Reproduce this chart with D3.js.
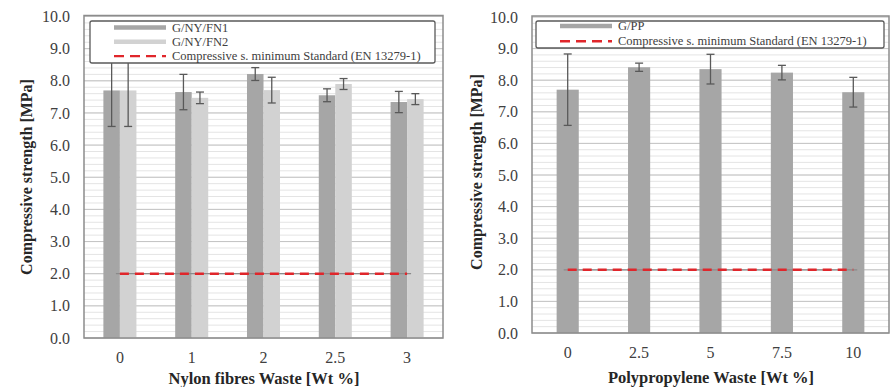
<!DOCTYPE html>
<html>
<head>
<meta charset="utf-8">
<script src="https://cdn.jsdelivr.net/npm/d3@7"></script>
<style>
  html, body { margin: 0; padding: 0; background: #fff; }
  svg { display: block; }
</style>
</head>
<body>
<svg id="chart" width="892" height="387"></svg>
<script>
// Compressive strength of gypsum composites with nylon fibre and polypropylene waste
const nylonCats = ["0", "1", "2", "2.5", "3"];
const fn1Values = [7.70, 7.65, 8.21, 7.55, 7.34];
const fn1Errors = [1.12, 0.55, 0.20, 0.20, 0.33];
const fn2Values = [7.70, 7.47, 7.71, 7.90, 7.43];
const fn2Errors = [1.12, 0.18, 0.40, 0.17, 0.17];

const ppCats = ["0", "2.5", "5", "7.5", "10"];
const ppValues = [7.70, 8.41, 8.35, 8.24, 7.62];
const ppErrors = [1.13, 0.13, 0.47, 0.23, 0.47];

const minStandard = 2.0;
const yTickValues = d3.range(0, 10.01, 1);
const yMinorValues = d3.range(0, 10.01, 0.2);

const standardLabel = "Compressive s. minimum Standard (EN 13279-1)";
const yTitle = "Compressive strength [MPa]";

const FONT = "'Liberation Serif', 'Times New Roman', serif";
const COL_DARK = "#a6a6a6";
const COL_LIGHT = "#d2d2d2";
const COL_RED = "#e0262b";
const COL_ERR = "#595959";

const svg = d3.select("#chart").style("font-family", FONT);

function drawPanel(cfg) {
  const g = svg.append("g");
  const x = d3.scaleBand().domain(cfg.cats)
    .range([cfg.left, cfg.right])
    .paddingInner(cfg.padInner).paddingOuter(cfg.padInner / 2);
  const y = d3.scaleLinear().domain([0, 10]).range([cfg.bottom, cfg.top]);
  const sub = d3.scaleBand().domain(cfg.series.map(s => s.name))
    .range([0, x.bandwidth()]);

  // minor and major horizontal grid
  g.append("g").selectAll("line").data(yMinorValues).join("line")
    .attr("x1", cfg.left).attr("x2", cfg.right)
    .attr("y1", d => y(d)).attr("y2", d => y(d))
    .attr("stroke", "#e4e4e4").attr("stroke-width", 1);
  g.append("g").selectAll("line").data(yTickValues).join("line")
    .attr("x1", cfg.left).attr("x2", cfg.right)
    .attr("y1", d => y(d)).attr("y2", d => y(d))
    .attr("stroke", "#c4c4c4").attr("stroke-width", 1);

  // bars
  cfg.series.forEach(s => {
    g.append("g").selectAll("rect").data(s.values).join("rect")
      .attr("x", (d, i) => x(cfg.cats[i]) + sub(s.name))
      .attr("y", d => y(d))
      .attr("width", sub.bandwidth())
      .attr("height", d => y(0) - y(d))
      .attr("fill", s.color);
  });

  // error bars
  cfg.series.forEach(s => {
    const eg = g.append("g").attr("stroke", COL_ERR).attr("stroke-width", 1.3);
    s.values.forEach((v, i) => {
      const cx = x(cfg.cats[i]) + sub(s.name) + sub.bandwidth() / 2;
      const hi = y(v + s.errors[i]), lo = y(v - s.errors[i]);
      eg.append("line").attr("x1", cx).attr("x2", cx).attr("y1", hi).attr("y2", lo);
      eg.append("line").attr("x1", cx - 4).attr("x2", cx + 4).attr("y1", hi).attr("y2", hi);
      eg.append("line").attr("x1", cx - 4).attr("x2", cx + 4).attr("y1", lo).attr("y2", lo);
    });
  });

  // minimum standard line
  const xs = x(cfg.cats[0]) + x.bandwidth() / 2;
  const xe = x(cfg.cats[cfg.cats.length - 1]) + x.bandwidth() / 2;
  g.append("line").attr("x1", xs - 4).attr("x2", xe + 4)
    .attr("y1", y(minStandard)).attr("y2", y(minStandard))
    .attr("stroke", "#8a8a8a").attr("stroke-width", 1.2);
  g.append("line").attr("x1", xs).attr("x2", xe)
    .attr("y1", y(minStandard)).attr("y2", y(minStandard))
    .attr("stroke", COL_RED).attr("stroke-width", 2.4)
    .attr("stroke-dasharray", "9,6");

  // plot frame
  g.append("rect")
    .attr("x", cfg.left).attr("y", cfg.top - 1)
    .attr("width", cfg.right - cfg.left).attr("height", cfg.bottom - cfg.top + 1)
    .attr("fill", "none").attr("stroke", "#8c8c8c").attr("stroke-width", 1.5);

  // y axis
  const ya = g.append("g").attr("transform", `translate(${cfg.left},0)`)
    .call(d3.axisLeft(y).tickValues(yTickValues).tickFormat(d3.format(".1f")).tickSize(0).tickPadding(cfg.yPad));
  ya.attr("font-family", null);
  ya.select(".domain").remove();
  ya.selectAll("text").attr("font-size", 16).attr("fill", "#404040")
    .style("font-family", FONT);

  // x axis
  const xa = g.append("g").attr("transform", `translate(0,${cfg.bottom})`)
    .call(d3.axisBottom(x).tickSize(0).tickPadding(14));
  xa.attr("font-family", null);
  xa.select(".domain").remove();
  xa.selectAll("text").attr("font-size", 16).attr("fill", "#404040")
    .style("font-family", FONT);

  // axis titles
  g.append("text")
    .attr("transform", `translate(${cfg.yTitleX},${cfg.yTitleY}) rotate(-90)`)
    .attr("text-anchor", "middle").attr("dominant-baseline", "central")
    .attr("font-size", 16).attr("font-weight", "bold").attr("fill", "#262626")
    .style("font-family", FONT)
    .text(yTitle);
  g.append("text")
    .attr("x", cfg.xTitleX).attr("y", cfg.xTitleY)
    .attr("text-anchor", "middle").attr("dominant-baseline", "central")
    .attr("font-size", 16.5).attr("font-weight", "bold").attr("fill", "#262626")
    .style("font-family", FONT)
    .text(cfg.xTitle);

  // legend
  const lg = g.append("g");
  lg.append("rect")
    .attr("x", cfg.legend.x).attr("y", cfg.legend.y)
    .attr("width", cfg.legend.w).attr("height", cfg.legend.h)
    .attr("rx", 2).attr("fill", "#fff").attr("stroke", "#5a5a5a").attr("stroke-width", 1.3);
  const items = cfg.series.map(s => ({ label: s.name, color: s.color, dashed: false }))
    .concat([{ label: standardLabel, color: COL_RED, dashed: true }]);
  items.forEach((it, i) => {
    const ly = cfg.legend.y + cfg.legend.first + i * cfg.legend.gap;
    lg.append("line")
      .attr("x1", cfg.legend.sx).attr("x2", cfg.legend.sx + 52)
      .attr("y1", ly).attr("y2", ly)
      .attr("stroke", it.color)
      .attr("stroke-width", it.dashed ? 2.4 : 4.5)
      .attr("stroke-dasharray", it.dashed ? "10,6" : null);
    lg.append("text")
      .attr("x", cfg.legend.sx + 58).attr("y", ly)
      .attr("dominant-baseline", "central")
      .attr("font-size", 12.5).attr("fill", "#404040")
      .style("font-family", FONT)
      .text(it.label);
  });
}

drawPanel({
  cats: nylonCats,
  series: [
    { name: "G/NY/FN1", values: fn1Values, errors: fn1Errors, color: COL_DARK },
    { name: "G/NY/FN2", values: fn2Values, errors: fn2Errors, color: COL_LIGHT }
  ],
  left: 84, right: 443, top: 16.5, bottom: 338,
  padInner: 0.54, yPad: 14,
  yTitleX: 26, yTitleY: 177,
  xTitle: "Nylon fibres Waste [Wt %]", xTitleX: 264, xTitleY: 378,
  legend: { x: 90, y: 21, w: 345, h: 42, first: 6.5, gap: 14.3, sx: 114 }
});

drawPanel({
  cats: ppCats,
  series: [
    { name: "G/PP", values: ppValues, errors: ppErrors, color: COL_DARK }
  ],
  left: 532, right: 889, top: 17, bottom: 333,
  padInner: 0.69, yPad: 14,
  yTitleX: 476, yTitleY: 172,
  xTitle: "Polypropylene Waste [Wt %]", xTitleX: 711, xTitleY: 377,
  legend: { x: 536, y: 21, w: 348, h: 27, first: 5, gap: 15.3, sx: 560 }
});
</script>
</body>
</html>
